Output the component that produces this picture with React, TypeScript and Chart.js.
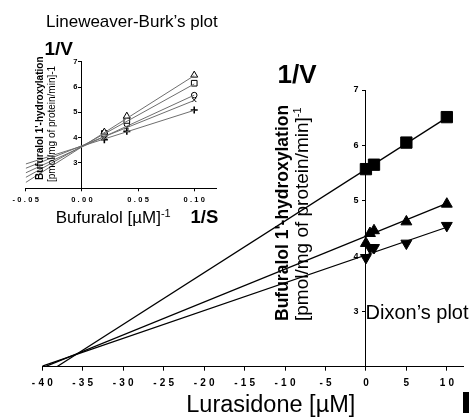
import React, { useEffect, useRef } from 'react';
import { Chart, registerables } from 'chart.js';
Chart.register(...registerables);

Chart.defaults.font.family = "Arial, 'Liberation Sans', Helvetica, sans-serif";
Chart.defaults.color = '#000';

// ---------- Dixon plot (main) ----------
const dixonConc = [0, 0.5, 1, 5, 10];
const squareConc = [0, 1, 5, 10];
const squareVals = [5.57, 5.65, 6.05, 6.51];
const upVals = [4.23, 4.41, 4.46, 4.62, 4.94];
const downVals = [3.97, 4.15, 4.15, 4.23, 4.55];
const squareFitX = [-38.2, 10];
const squareFitY = [2.0, 6.5];
const upFitX = [-40, 10];
const upFitY = [1.98, 4.95];
const downFitX = [-40, 10];
const downFitY = [2.01, 4.52];
const dixonXTicks = [-40, -35, -30, -25, -20, -15, -10, -5, 0, 5, 10];
const dixonYTicks = [3, 4, 5, 6, 7];

// ---------- Lineweaver-Burk plot (inset) ----------
const lbInvS = [0.02, 0.04, 0.1];
const lbTriangle = [4.22, 4.85, 6.47];
const lbSquare = [4.17, 4.68, 6.15];
const lbCircle = [4.1, 4.54, 5.68];
const lbCross = [4.04, 4.41, 5.49];
const lbPlus = [3.92, 4.25, 5.09];
const lbFitX = [-0.05, 0.1];
const lbTriangleFit = [2.23, 6.45];
const lbSquareFit = [2.43, 6.12];
const lbCircleFit = [2.61, 5.68];
const lbCrossFit = [2.79, 5.47];
const lbPlusFit = [2.96, 5.08];
const lbXTicks = [-0.05, 0, 0.05, 0.1];
const lbYTicks = [3, 4, 5, 6, 7];

const pts = (xs: number[], ys: number[]) => xs.map((x, i) => ({ x, y: ys[i] }));

function labelPlugin(xSpacing: number, yShift: number) {
  return {
    id: 'labelTweaks',
    beforeDraw(chart: any) {
      const xs = chart.scales.x;
      const ys = chart.scales.y;
      if (xs && !xs.__w) {
        const orig = xs.drawLabels.bind(xs);
        xs.drawLabels = (ca: any) => {
          const c = chart.ctx;
          c.save();
          c.letterSpacing = xSpacing + 'px';
          c.translate(xSpacing / 2, 0);
          orig(ca);
          c.restore();
        };
        xs.__w = true;
      }
      if (ys && !ys.__w) {
        const orig = ys.drawLabels.bind(ys);
        ys.drawLabels = (ca: any) => {
          const c = chart.ctx;
          c.save();
          c.translate(-yShift, 0);
          orig(ca);
          c.restore();
        };
        ys.__w = true;
      }
    },
  };
}

const fmt2 = (v: number) => (v < 0 ? '-' : '') + Math.abs(v).toFixed(2);

function MainChart() {
  const ref = useRef<HTMLCanvasElement>(null);
  useEffect(() => {
    const fit = (xs: number[], ys: number[]) => ({
      type: 'scatter' as const,
      data: pts(xs, ys),
      showLine: true,
      borderColor: '#000',
      borderWidth: 1.3,
      pointRadius: 0,
      fill: false,
    });
    const marks = (xs: number[], ys: number[], style: string, r: number, rot = 0) => ({
      type: 'scatter' as const,
      data: pts(xs, ys),
      showLine: false,
      pointStyle: style,
      pointRadius: r,
      pointRotation: rot,
      backgroundColor: '#000',
      borderColor: '#000',
      borderWidth: 1,
    });
    const chart = new Chart(ref.current!, {
      type: 'scatter',
      data: {
        datasets: [
          fit(squareFitX, squareFitY),
          fit(upFitX, upFitY),
          fit(downFitX, downFitY),
          marks(squareConc, squareVals, 'rect', 8),
          marks(dixonConc, upVals, 'triangle', 6.3),
          marks(dixonConc, downVals, 'triangle', 6.3, 180),
        ] as any,
      },
      options: {
        animation: false,
        responsive: false,
        events: [],
        layout: { padding: { left: 42.3, right: 4.3, top: 90, bottom: 22.3 } },
        plugins: { legend: { display: false }, tooltip: { enabled: false } },
        scales: {
          x: {
            type: 'linear',
            min: -40,
            max: 12,
            position: 'bottom',
            afterBuildTicks: (s: any) => {
              s.ticks = dixonXTicks.map((v) => ({ value: v }));
            },
            afterFit: (s: any) => {
              s.height = 30;
            },
            ticks: {
              color: '#000',
              font: { size: 10, weight: 'bold' },
              padding: 6.3,
              maxRotation: 0,
              autoSkip: false,
              callback: (v: any) => String(v),
            },
            grid: { drawOnChartArea: false, color: '#000', tickLength: 4, tickWidth: 1 },
            border: { color: '#000', width: 1 },
          },
          y: {
            type: 'linear',
            min: 2,
            max: 7,
            position: { x: 0 } as any,
            afterBuildTicks: (s: any) => {
              s.ticks = dixonYTicks.map((v) => ({ value: v }));
            },
            ticks: { color: '#000', font: { size: 9, weight: 'bold' }, padding: 3, callback: (v: any) => String(v) },
            grid: { drawOnChartArea: false, color: '#000', tickLength: 3, tickWidth: 1 },
            border: { color: '#000', width: 1 },
          },
        },
      } as any,
      plugins: [labelPlugin(3.2, 7.4)],
    });
    return () => chart.destroy();
  }, []);
  return (
    <canvas
      ref={ref}
      width={472}
      height={419}
      style={{ position: 'absolute', left: 0, top: 0, width: 472, height: 419 }}
    />
  );
}

function InsetChart() {
  const ref = useRef<HTMLCanvasElement>(null);
  useEffect(() => {
    const fit = (ys: number[]) => ({
      type: 'scatter' as const,
      data: pts(lbFitX, ys),
      showLine: true,
      borderColor: '#6e6e6e',
      borderWidth: 1,
      pointRadius: 0,
      fill: false,
    });
    const marks = (ys: number[], style: string, r: number, bw = 1) => ({
      type: 'scatter' as const,
      data: pts(lbInvS, ys),
      showLine: false,
      pointStyle: style,
      pointRadius: r,
      backgroundColor: '#fff',
      borderColor: '#000',
      borderWidth: bw,
    });
    const chart = new Chart(ref.current!, {
      type: 'scatter',
      data: {
        datasets: [
          fit(lbTriangleFit),
          fit(lbSquareFit),
          fit(lbCircleFit),
          fit(lbCrossFit),
          fit(lbPlusFit),
          marks(lbTriangle, 'triangle', 4),
          marks(lbSquare, 'rect', 4),
          marks(lbCircle, 'circle', 2.8),
          marks(lbCross, 'crossRot', 3),
          marks(lbPlus, 'cross', 3.5, 1.6),
        ] as any,
      },
      options: {
        animation: false,
        responsive: false,
        events: [],
        layout: { padding: { left: 25.7, right: 23.3, top: 61.7, bottom: 26.7 } },
        plugins: { legend: { display: false }, tooltip: { enabled: false } },
        scales: {
          x: {
            type: 'linear',
            min: -0.05,
            max: 0.12,
            position: 'bottom',
            afterBuildTicks: (s: any) => {
              s.ticks = lbXTicks.map((v) => ({ value: v }));
            },
            afterFit: (s: any) => {
              s.height = 20;
            },
            ticks: {
              color: '#000',
              font: { size: 7.5, weight: 'bold' },
              padding: 4.2,
              maxRotation: 0,
              autoSkip: false,
              callback: (v: any) => fmt2(Number(v)),
            },
            grid: { drawOnChartArea: false, color: '#000', tickLength: 3, tickWidth: 1 },
            border: { color: '#000', width: 1 },
          },
          y: {
            type: 'linear',
            min: 2,
            max: 7,
            position: { x: 0 } as any,
            afterBuildTicks: (s: any) => {
              s.ticks = lbYTicks.map((v) => ({ value: v }));
            },
            ticks: { color: '#000', font: { size: 7.5, weight: 'bold' }, padding: 2, callback: (v: any) => String(v) },
            grid: { drawOnChartArea: false, color: '#000', tickLength: 3, tickWidth: 1 },
            border: { color: '#000', width: 1 },
          },
        },
      } as any,
      plugins: [labelPlugin(2.3, 4.4)],
    });
    return () => chart.destroy();
  }, []);
  return (
    <canvas
      ref={ref}
      width={240}
      height={235}
      style={{ position: 'absolute', left: 0, top: 0, width: 240, height: 235 }}
    />
  );
}

const base: React.CSSProperties = {
  position: 'absolute',
  fontFamily: "Arial, 'Liberation Sans', Helvetica, sans-serif",
  color: '#000',
  whiteSpace: 'nowrap',
  lineHeight: 1,
  margin: 0,
};

const rot = (left: number, bottom: number, size: number, bold: boolean): React.CSSProperties => ({
  ...base,
  left,
  top: bottom,
  fontSize: size,
  lineHeight: size + 'px',
  fontWeight: bold ? 'bold' : 'normal',
  transform: 'rotate(-90deg)',
  transformOrigin: '0 0',
});

export default function App() {
  return (
    <div
      style={{
        position: 'absolute',
        left: 0,
        top: 0,
        width: 472,
        height: 419,
        background: '#fff',
        overflow: 'hidden',
      }}
    >
      <MainChart />
      <InsetChart />

      {/* Inset texts */}
      <div style={{ ...base, left: 46, top: 12.5, fontSize: 17 }}>Lineweaver-Burk’s plot</div>
      <div style={{ ...base, left: 44.5, top: 39, fontSize: 19, fontWeight: 'bold' }}>1/V</div>
      <div style={rot(34.5, 180, 10, true)}>Bufuralol 1'-hydroxylation</div>
      <div style={rot(46.6, 182, 10, false)}>[pmol/mg of protein/min]-1</div>
      <div style={{ ...base, left: 55.7, top: 208.8, fontSize: 17 }}>
        Bufuralol [µM]
        <span style={{ fontSize: 11, position: 'relative', top: -6 }}>-1</span>
      </div>
      <div style={{ ...base, left: 190.5, top: 208.3, fontSize: 18.5, fontWeight: 'bold' }}>1/S</div>

      {/* Main texts */}
      <div style={{ ...base, left: 277.5, top: 61, fontSize: 26, fontWeight: 'bold' }}>1/V</div>
      <div style={rot(273.5, 321, 17.5, true)}>Bufuralol 1'-hydroxylation</div>
      <div style={rot(291.5, 321, 19, false)}>
        [pmol/mg of protein/min]
        <span style={{ fontSize: 11, position: 'relative', top: -7 }}>-1</span>
      </div>
      <div style={{ ...base, left: 365.5, top: 302.4, fontSize: 20 }}>Dixon’s plot</div>
      <div style={{ ...base, left: 186.3, top: 393.2, fontSize: 23.5 }}>Lurasidone [µM]</div>
      <div style={{ position: 'absolute', left: 463, top: 392, width: 5.5, height: 21, background: '#000' }} />
    </div>
  );
}
